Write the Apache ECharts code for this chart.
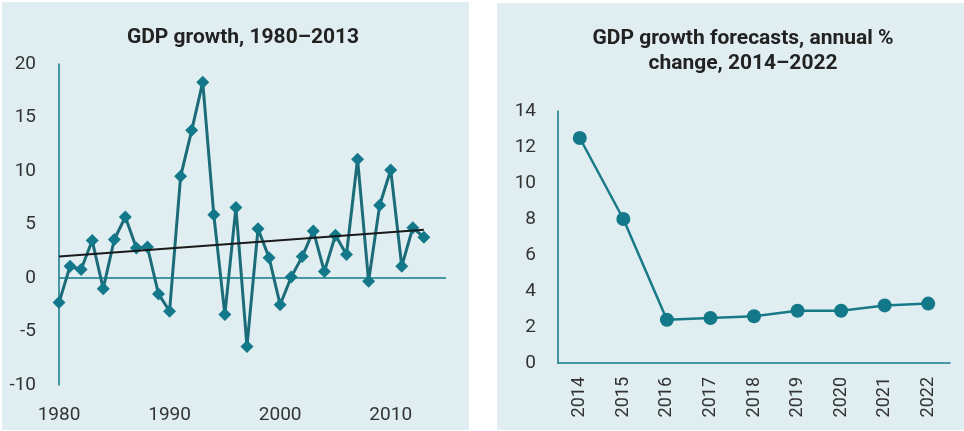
<!DOCTYPE html>
<html>
<head>
<meta charset="utf-8">
<script src="https://cdn.jsdelivr.net/npm/echarts@6/dist/echarts.min.js"></script>
<style>
  html, body { margin: 0; padding: 0; background: #ffffff; }
  #chart { width: 964px; height: 431px; }
</style>
</head>
<body>
<div id="chart"></div>
<script>
// GDP growth, 1980-2013
var growthYears = [1980, 1981, 1982, 1983, 1984, 1985, 1986, 1987, 1988, 1989,
  1990, 1991, 1992, 1993, 1994, 1995, 1996, 1997, 1998, 1999,
  2000, 2001, 2002, 2003, 2004, 2005, 2006, 2007, 2008, 2009,
  2010, 2011, 2012, 2013];
var growthValues = [-2.3, 1.1, 0.8, 3.5, -1.0, 3.6, 5.7, 2.8, 2.9, -1.5,
  -3.1, 9.5, 13.8, 18.3, 5.9, -3.4, 6.6, -6.4, 4.6, 1.9,
  -2.5, 0.1, 2.0, 4.4, 0.6, 4.0, 2.2, 11.1, -0.3, 6.8,
  10.1, 1.1, 4.7, 3.8];
// trend line end points
var trendYears = [1980, 2013];
var trendValues = [2.0, 4.5];

// GDP growth forecasts 2014-2022
var forecastYears = ['2014', '2015', '2016', '2017', '2018', '2019', '2020', '2021', '2022'];
var forecastValues = [12.5, 8.0, 2.4, 2.5, 2.6, 2.9, 2.9, 3.2, 3.3];

var titleLeft = 'GDP growth, 1980\u20132013';
var titleRight = 'GDP growth forecasts, annual %\nchange, 2014\u20132022';

var teal = '#13798a';
var tealLine = '#1c6b79';
var bg = '#e0eef2';
var font = 'Roboto, sans-serif';

var myChart = echarts.init(document.getElementById('chart'));
var option = {
  backgroundColor: '#ffffff',
  animation: false,
  graphic: [
    { type: 'rect', z: -10, shape: { x: 2, y: 2, width: 467, height: 428 }, style: { fill: bg } },
    { type: 'rect', z: -10, shape: { x: 497, y: 3, width: 467, height: 427 }, style: { fill: bg } },
    {
      type: 'text', x: 243, y: 38,
      style: { text: titleLeft, fill: '#222', font: 'bold 21px ' + font, textAlign: 'center', textVerticalAlign: 'middle' }
    },
    {
      type: 'text', x: 743, y: 51,
      style: { text: titleRight, fill: '#222', font: 'bold 21px ' + font, textAlign: 'center', textVerticalAlign: 'middle', lineHeight: 25 }
    }
  ],
  grid: [
    { left: 59, top: 64, right: 518, bottom: 46 },
    { left: 558, top: 111, right: 14, bottom: 68 }
  ],
  xAxis: [
    {
      gridIndex: 0,
      type: 'value',
      min: 1980,
      max: 2015,
      interval: 10,
      axisLine: { show: false },
      axisTick: { show: false },
      splitLine: { show: false },
      axisLabel: {
        margin: 21,
        fontSize: 19,
        fontFamily: font,
        color: '#333',
        formatter: function (v) { return v > 2013 ? '' : String(v); }
      }
    },
    {
      gridIndex: 1,
      type: 'category',
      data: forecastYears,
      boundaryGap: true,
      axisLine: { show: true, lineStyle: { color: teal, width: 1.5 } },
      axisTick: { show: false },
      axisLabel: { rotate: 90, margin: 14, fontSize: 18, fontFamily: font, color: '#333' }
    }
  ],
  yAxis: [
    {
      gridIndex: 0,
      type: 'value',
      min: -10,
      max: 20,
      interval: 5,
      axisLine: { show: true, lineStyle: { color: teal, width: 1.5 } },
      axisTick: { show: false },
      splitLine: { show: false },
      axisLabel: { margin: 23, fontSize: 19, fontFamily: font, color: '#333' }
    },
    {
      gridIndex: 1,
      type: 'value',
      min: 0,
      max: 14,
      interval: 2,
      axisLine: { show: true, lineStyle: { color: teal, width: 1.5 } },
      axisTick: { show: false },
      splitLine: { show: false },
      axisLabel: { margin: 22, fontSize: 19, fontFamily: font, color: '#333' }
    }
  ],
  series: [
    {
      type: 'line',
      xAxisIndex: 0,
      yAxisIndex: 0,
      data: growthYears.map(function (y, i) { return [y, growthValues[i]]; }),
      symbol: 'diamond',
      symbolSize: 13,
      showAllSymbol: true,
      itemStyle: { color: teal },
      lineStyle: { color: tealLine, width: 3 },
      markLine: {
        silent: true,
        symbol: 'none',
        label: { show: false },
        lineStyle: { color: teal, width: 1.5, type: 'solid' },
        data: [{ yAxis: 0 }]
      },
      z: 3
    },
    {
      type: 'line',
      xAxisIndex: 0,
      yAxisIndex: 0,
      data: trendYears.map(function (y, i) { return [y, trendValues[i]]; }),
      symbol: 'none',
      lineStyle: { color: '#1a1a1a', width: 2 },
      z: 4
    },
    {
      type: 'line',
      xAxisIndex: 1,
      yAxisIndex: 1,
      data: forecastValues,
      symbol: 'circle',
      symbolSize: 14,
      itemStyle: { color: teal },
      lineStyle: { color: '#187a88', width: 2.5 }
    }
  ]
};
option && myChart.setOption(option);
window.addEventListener('resize', function () {
  myChart.resize();
});
</script>
</body>
</html>
